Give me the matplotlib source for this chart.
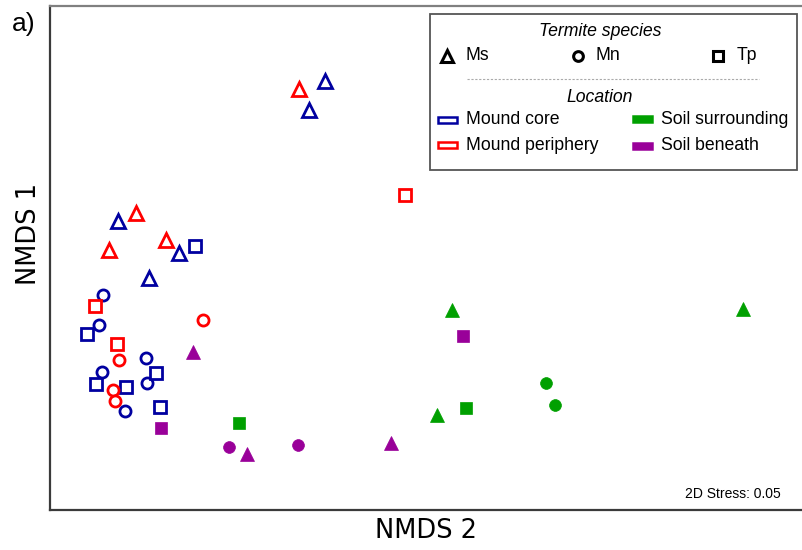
import matplotlib
matplotlib.use("Agg")
import matplotlib.pyplot as plt
from matplotlib.patches import Rectangle
from matplotlib.lines import Line2D

W, H = 803, 550

# NMDS scores (arbitrary units)
locations = ["Mound core", "Mound periphery", "Soil surrounding", "Soil beneath"]
species = ["Ms", "Mn", "Tp"]

core_ms = [(2.75, 4.29), (2.59, 4.00), (0.68, 2.89), (1.29, 2.57), (0.99, 2.32)]
core_mn = [(0.53, 2.15), (0.49, 1.85), (0.96, 1.52), (0.52, 1.38), (0.97, 1.27), (0.75, 0.99)]
core_tp = [(1.45, 2.64), (0.37, 1.76), (1.06, 1.37), (0.46, 1.26), (0.76, 1.23), (1.10, 1.03)]
peri_ms = [(2.49, 4.21), (0.86, 2.97), (0.59, 2.60), (1.16, 2.70)]
peri_mn = [(1.53, 1.90), (0.69, 1.50), (0.63, 1.20), (0.65, 1.09)]
peri_tp = [(0.45, 2.04), (0.67, 1.66), (3.55, 3.15)]
surr_ms = [(4.02, 2.00), (3.87, 0.95), (6.93, 2.01)]
surr_mn = [(4.96, 1.27), (5.05, 1.05)]
surr_tp = [(1.89, 0.87), (4.16, 1.02)]
bene_ms = [(1.43, 1.58), (1.97, 0.56), (3.41, 0.67)]
bene_mn = [(1.79, 0.63), (2.48, 0.65)]
bene_tp = [(4.13, 1.74), (1.11, 0.82)]

groups = {
    "Mound core": [core_ms, core_mn, core_tp],
    "Mound periphery": [peri_ms, peri_mn, peri_tp],
    "Soil surrounding": [surr_ms, surr_mn, surr_tp],
    "Soil beneath": [bene_ms, bene_mn, bene_tp],
}

colors = {"Mound core": "#0000a0", "Mound periphery": "#ff0000",
          "Soil surrounding": "#00a000", "Soil beneath": "#990099"}
filled = {"Mound core": False, "Mound periphery": False,
          "Soil surrounding": True, "Soil beneath": True}
markers = {"Ms": "^", "Mn": "o", "Tp": "s"}
open_size = {"Ms": 10, "Mn": 8, "Tp": 8}
fill_size = {"Ms": 10.5, "Mn": 8.5, "Tp": 8.5}

fig = plt.figure(figsize=(W / 100, H / 100), dpi=100)
ax = fig.add_axes([50 / W, 40 / H, (811 - 50) / W, (510 - 6) / H])

for loc in locations:
    for sp, pts in zip(species, groups[loc]):
        xs = [p[0] for p in pts]
        ys = [p[1] for p in pts]
        c = colors[loc]
        if filled[loc]:
            ax.plot(xs, ys, ls="none", marker=markers[sp], ms=fill_size[sp],
                    mfc=c, mec=c, mew=0.5)
        else:
            ax.plot(xs, ys, ls="none", marker=markers[sp], ms=open_size[sp],
                    mfc="white", mec=c, mew=2.0)

ax.set_xlim(0, 7.61)
ax.set_ylim(0, 5.04)
ax.set_xticks([])
ax.set_yticks([])
ax.spines["right"].set_visible(False)
ax.spines["left"].set_color("#3a3a3a")
ax.spines["bottom"].set_color("#3a3a3a")
ax.spines["top"].set_color("#808080")
for s in ["left", "bottom", "top"]:
    ax.spines[s].set_linewidth(1.6)


def fx(px):
    return px / W


def fy(py):
    return 1 - py / H


fig.text(fx(426), fy(531), "NMDS 2", fontsize=18.5, ha="center", va="center")
fig.text(fx(29), fy(234), "NMDS 1", fontsize=18.5, ha="center", va="center", rotation=90)
fig.text(fx(12), fy(24), "a)", fontsize=19, family="Liberation Sans", va="center")
fig.text(fx(781), fy(494), "2D Stress: 0.05", fontsize=10, family="Liberation Sans",
         ha="right", va="center")

# legend drawn in figure pixel coordinates
lf = dict(family="Liberation Sans", fontsize=12.7, va="center", zorder=8)
fig.patches.append(Rectangle((fx(430), fy(170)), fx(797) - fx(430), fy(14) - fy(170),
                             transform=fig.transFigure, fc="white", ec="#555555", lw=1.3,
                             zorder=5))
fig.text(fx(600), fy(31), "Termite species", ha="center", style="italic", **lf)
for sp, mx, tx in [("Ms", 447, 466), ("Mn", 578, 596), ("Tp", 718, 737)]:
    fig.lines.append(Line2D([fx(mx)], [fy(56)], transform=fig.transFigure, ls="none",
                            marker=markers[sp], ms=9 if sp == "Ms" else 7, mfc="white",
                            mec="black", mew=2.2, zorder=6))
    fig.text(fx(tx), fy(56), sp, **lf)
fig.lines.append(Line2D([fx(467), fx(759)], [fy(79), fy(79)], transform=fig.transFigure,
                        color="#aaaaaa", lw=0.8, ls=(0, (2, 1.5)), zorder=6))
fig.text(fx(600), fy(97), "Location", ha="center", style="italic", **lf)
for loc, bx, by in [("Mound core", 438, 120), ("Mound periphery", 438, 145),
                    ("Soil surrounding", 633, 119), ("Soil beneath", 633, 146)]:
    c = colors[loc]
    fig.patches.append(Rectangle((fx(bx), fy(by + 3)), fx(19), fy(0) - fy(6),
                                 transform=fig.transFigure,
                                 fc=c if filled[loc] else "white", ec=c, lw=1.8, zorder=6))
    fig.text(fx(bx + 28), fy(by), loc, **lf)

fig.savefig("out.png", dpi=100)
